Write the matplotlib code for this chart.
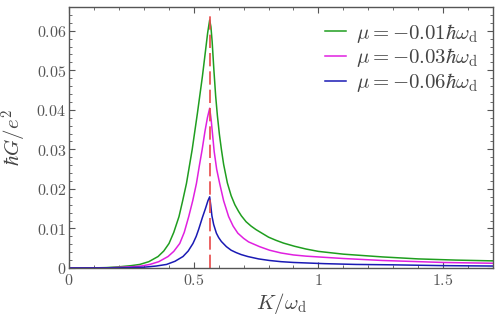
import matplotlib
matplotlib.use("Agg")
import matplotlib.pyplot as plt
from matplotlib.ticker import MultipleLocator, FuncFormatter

plt.rcParams['mathtext.fontset'] = 'cm'
plt.rcParams['font.family'] = ['DejaVu Serif']

# Series data
x_green = [0.0, 0.1, 0.15, 0.2, 0.25, 0.284, 0.32, 0.357, 0.38, 0.401, 0.42, 0.441, 0.455,
           0.471, 0.494, 0.515, 0.535, 0.548, 0.556, 0.564, 0.569, 0.574, 0.581, 0.588,
           0.595, 0.603, 0.611, 0.62, 0.635, 0.65, 0.665, 0.68, 0.691, 0.71, 0.73, 0.75,
           0.771, 0.8, 0.83, 0.86, 0.904, 0.95, 1.0, 1.1, 1.257, 1.4, 1.55, 1.7]
y_green = [0.0, 0.00003, 0.0001, 0.0003, 0.0006, 0.0009, 0.0016, 0.0029, 0.0043, 0.0062,
           0.0090, 0.0130, 0.0168, 0.0214, 0.0300, 0.0392, 0.0485, 0.0553, 0.0595, 0.0627,
           0.0610, 0.0572, 0.0500, 0.0435, 0.0385, 0.0338, 0.0300, 0.0262, 0.0215, 0.0183,
           0.0160, 0.0143, 0.0132, 0.0117, 0.0106, 0.0097, 0.0089, 0.0078, 0.0070, 0.0063,
           0.0055, 0.0048, 0.0042, 0.0035, 0.0028, 0.0023, 0.0020, 0.0018]

x_magenta = [0.0, 0.15, 0.25, 0.29, 0.324, 0.36, 0.397, 0.42, 0.444, 0.462, 0.48, 0.496,
             0.511, 0.523, 0.534, 0.545, 0.555, 0.564, 0.570, 0.576, 0.582, 0.592, 0.604,
             0.62, 0.64, 0.658, 0.677, 0.7, 0.72, 0.764, 0.804, 0.85, 0.9, 0.95, 1.024,
             1.1, 1.257, 1.5, 1.7]
y_magenta = [0.0, 0.00003, 0.0003, 0.0005, 0.0009, 0.0016, 0.0029, 0.0042, 0.0062, 0.0090,
             0.0130, 0.0170, 0.0214, 0.0260, 0.0300, 0.0345, 0.0380, 0.0404, 0.0375, 0.0335,
             0.0295, 0.0250, 0.0214, 0.0170, 0.0130, 0.0106, 0.0088, 0.0075, 0.0066, 0.0054,
             0.0045, 0.0038, 0.0033, 0.0030, 0.0027, 0.0024, 0.0019, 0.0014, 0.0012]

x_blue = [0.0, 0.2, 0.3, 0.35, 0.391, 0.425, 0.457, 0.478, 0.497, 0.51, 0.52, 0.535, 0.548,
          0.557, 0.564, 0.568, 0.573, 0.58, 0.591, 0.6, 0.611, 0.631, 0.65, 0.67, 0.69,
          0.717, 0.76, 0.804, 0.85, 0.9, 1.024, 1.15, 1.3, 1.5, 1.7]
y_blue = [0.0, 0.00003, 0.0002, 0.0005, 0.0009, 0.0017, 0.0029, 0.0043, 0.0062, 0.0080,
          0.0098, 0.0128, 0.0152, 0.0170, 0.0180, 0.0160, 0.0132, 0.0110, 0.0088, 0.0077,
          0.0067, 0.0054, 0.0045, 0.0039, 0.0034, 0.0029, 0.0023, 0.0019, 0.0016, 0.0014,
          0.0011, 0.0009, 0.0008, 0.0006, 0.0005]

labels = [r'$\mu=-0.01\hbar\omega_{\rm d}$',
          r'$\mu=-0.03\hbar\omega_{\rm d}$',
          r'$\mu=-0.06\hbar\omega_{\rm d}$']
colors = ['#1f9e1f', '#e020e0', '#1a1ab4']
k_res = 0.564

fig = plt.figure(figsize=(4.96, 3.15), dpi=100)
ax = fig.add_axes([69/496, 1-268/315, (493-69)/496, (268-7)/315])

ax.plot(x_green, y_green, color=colors[0], lw=1.1, label=labels[0], solid_joinstyle='round')
ax.plot(x_magenta, y_magenta, color=colors[1], lw=1.1, label=labels[1], solid_joinstyle='round')
ax.plot(x_blue, y_blue, color=colors[2], lw=1.1, label=labels[2], solid_joinstyle='round')
ax.axvline(k_res, color='#e84848', lw=1.2, ls=(0, (8, 3)), ymax=0.98)

ax.set_xlim(0, 1.7)
ax.set_ylim(0, 0.066)
ax.xaxis.set_major_locator(MultipleLocator(0.5))
ax.xaxis.set_minor_locator(MultipleLocator(0.1))
ax.yaxis.set_major_locator(MultipleLocator(0.01))
ax.yaxis.set_minor_locator(MultipleLocator(0.002))

def fmt(v, pos):
    if abs(v) < 1e-12:
        s = '0'
    else:
        s = ('%.2f' % v).rstrip('0').rstrip('.')
    return r'$' + s + '$'

ax.xaxis.set_major_formatter(FuncFormatter(fmt))
ax.yaxis.set_major_formatter(FuncFormatter(fmt))

ax.tick_params(which='both', direction='in', top=True, right=True, colors='#555555',
               labelcolor='#555555', labelsize=11.5)
ax.tick_params(which='major', length=4, width=0.8)
ax.tick_params(which='minor', length=2, width=0.6)
ax.tick_params(axis='x', pad=3)
ax.tick_params(axis='y', pad=2)
for s in ax.spines.values():
    s.set_color('#555555')
    s.set_linewidth(1.0)

ax.set_xlabel(r'$K/\omega_{\rm d}$', fontsize=15, color='#444444', labelpad=1)
ax.set_ylabel(r'$\hbar G/e^2$', fontsize=15, color='#444444', labelpad=5)

leg = ax.legend(loc='upper right', frameon=False, fontsize=15, handlelength=1.0,
                handletextpad=0.5, labelspacing=0.08, borderaxespad=0.3)
for t in leg.get_texts():
    t.set_color('#444444')

fig.savefig('out.png', dpi=100)
